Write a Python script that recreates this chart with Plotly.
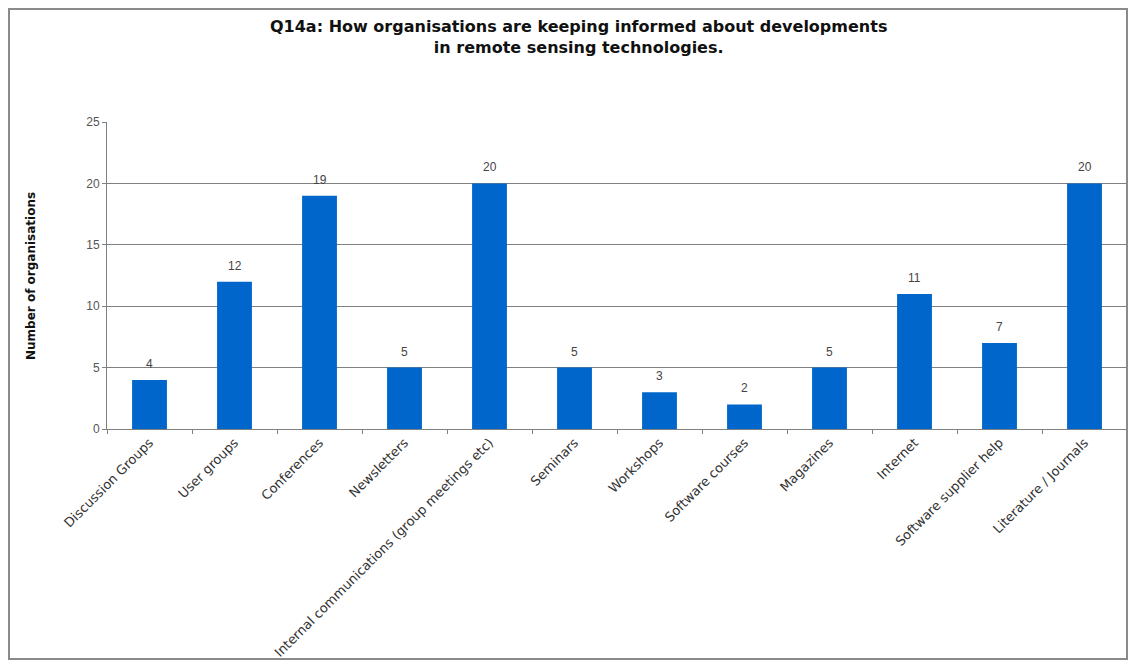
import plotly.graph_objects as go

# Survey responses: information channels used by organisations
channels = [
    "Discussion Groups",
    "User groups",
    "Conferences",
    "Newsletters",
    "Internal communications (group meetings etc)",
    "Seminars",
    "Workshops",
    "Software courses",
    "Magazines",
    "Internet",
    "Software supplier help",
    "Literature / Journals",
]
organisations = [4, 12, 19, 5, 20, 5, 3, 2, 5, 11, 7, 20]
y_ticks = [0, 5, 10, 15, 20, 25]

W, H = 1130, 664
# plot-area edges in pixels
px_left, px_right, px_top, px_bottom = 107, 1127, 122, 429

fig = go.Figure(
    go.Bar(
        x=channels,
        y=organisations,
        marker=dict(color="#0066CC", line=dict(width=0)),
        hoverinfo="x+y",
    )
)

# value labels above each bar
for name, val in zip(channels, organisations):
    fig.add_annotation(
        x=name, y=val, text=str(val),
        xref="x", yref="y",
        yshift=16, yanchor="middle",
        showarrow=False,
        font=dict(family="Liberation Sans, Arial", size=12, color="#444444"),
    )

fig.update_layout(
    width=W,
    height=H,
    margin=dict(l=0, r=0, t=0, b=0),
    paper_bgcolor="white",
    plot_bgcolor="white",
    bargap=0.59,
    showlegend=False,
    font=dict(family="Liberation Sans, Arial", color="#333333"),
    xaxis=dict(
        domain=[px_left / W, px_right / W],
        type="category",
        tickson="boundaries",
        ticks="outside",
        ticklen=4,
        tickcolor="#808080",
        tickangle=-45,
        tickfont=dict(family="DejaVu Sans", size=13, color="#333333"),
        showgrid=False,
        showline=True,
        linecolor="#808080",
        linewidth=1,
        automargin=False,
    ),
    yaxis=dict(
        domain=[(H - px_bottom) / H, (H - px_top) / H],
        range=[0, 25],
        tickvals=y_ticks,
        ticks="outside",
        ticklen=4,
        tickcolor="#808080",
        tickfont=dict(size=12, color="#555555"),
        showgrid=True,
        gridcolor="#808080",
        gridwidth=1,
        showline=True,
        linecolor="#808080",
        linewidth=1,
        zeroline=False,
        automargin=False,
    ),
)

# chart title
fig.add_annotation(
    text="<b>Q14a: How organisations are keeping informed about developments<br>in remote sensing technologies.</b>",
    xref="paper", yref="paper",
    x=578 / W, y=(H - 37) / H,
    xanchor="center", yanchor="middle",
    showarrow=False,
    font=dict(family="DejaVu Sans", size=16, color="#111111"),
    align="center",
)

# y-axis title
fig.add_annotation(
    text="<b>Number of organisations</b>",
    xref="paper", yref="paper",
    x=31 / W, y=(H - 276) / H,
    xanchor="center", yanchor="middle",
    textangle=-90,
    showarrow=False,
    font=dict(family="DejaVu Sans", size=12, color="#111111"),
)

# chart-area frame
fig.add_shape(
    type="rect",
    xref="paper", yref="paper",
    x0=9 / W, x1=1127 / W,
    y0=(H - 659) / H, y1=(H - 9) / H,
    line=dict(color="#8a8a8a", width=2),
    fillcolor="rgba(0,0,0,0)",
    layer="above",
)

fig.write_html("out.html")
